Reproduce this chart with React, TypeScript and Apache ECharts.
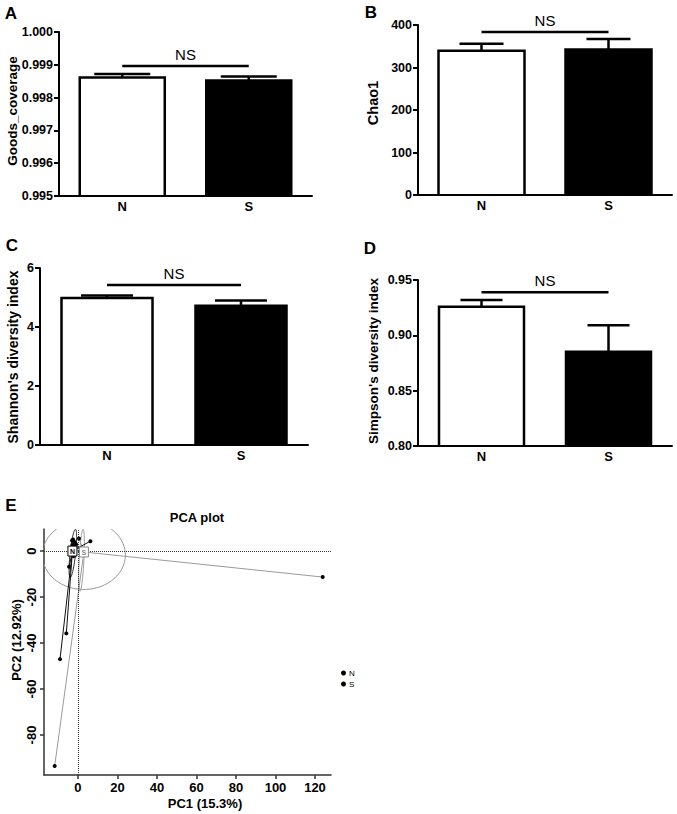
import React, { useEffect, useRef } from 'react';
import * as echarts from 'echarts';

// ---------- data ----------
const groups = ['N', 'S'];

const goodsMean = [0.99861, 0.99852];
const goodsUpper = [0.99872, 0.99864];
const goodsNS = 0.99896;
const goodsTicks = [0.995, 1.0];

const chaoMean = [339.5, 342.5];
const chaoUpper = [356, 367];
const chaoNS = 383.5;
const chaoTicks = [0, 400];

const shannonMean = [4.98, 4.72];
const shannonUpper = [5.07, 4.9];
const shannonNS = 5.42;
const shannonTicks = [0, 6];

const simpsonMean = [0.9259, 0.8852];
const simpsonUpper = [0.9319, 0.9091];
const simpsonNS = 0.939;
const simpsonTicks = [0.8, 0.95];

const pcaXTicks = [0, 20, 40, 60, 80, 100, 120];
const pcaYTicks = [-80, -60, -40, -20, 0];
const pcaNCentroid = [-2.8, 0];
const pcaSCentroid = [3, -0.4];
const pcaNPoints = [
  [-2.5, 5], [-2, 4.2], [-1.5, 3.5], [-2.8, 2.6], [-1, 3], [-3, 4.6], [-1.8, 1.5],
  [-2.2, -2.2], [-4.5, -6.8], [-5.9, -35.8], [-9.1, -47], [6.3, 4.3],
];
const pcaSPoints = [[123.9, -11.3], [-11.8, -93.5], [0.5, 5.5], [-1.2, 2.2], [-2.5, 0.8]];
const pcaEllipses = [
  { group: 'N', center: [-2.6, -1], major: [1.3, 10.5], minor: [1.4, 0] },
  { group: 'S', center: [3, -1.7], major: [21, 0], minor: [0, 15] },
  { group: 'S', center: [1.8, -4], major: [0.8, 13.5], minor: [1.2, 0] },
];

// ---------- styles ----------
const FONT = "'Liberation Sans', Arial, Helvetica, sans-serif";

const barPanels = [
  { mean: goodsMean, upper: goodsUpper, ns: goodsNS, ticks: goodsTicks, interval: 0.001, digits: 3, grid: { left: 59, top: 32, width: 253, height: 164 }, barWidth: 85, cap: 28 },
  { mean: chaoMean, upper: chaoUpper, ns: chaoNS, ticks: chaoTicks, interval: 100, digits: 0, grid: { left: 418, top: 25, width: 254, height: 170 }, barWidth: 86, cap: 22 },
  { mean: shannonMean, upper: shannonUpper, ns: shannonNS, ticks: shannonTicks, interval: 2, digits: 0, grid: { left: 40, top: 268, width: 268, height: 177 }, barWidth: 91, cap: 26 },
  { mean: simpsonMean, upper: simpsonUpper, ns: simpsonNS, ticks: simpsonTicks, interval: 0.05, digits: 2, grid: { left: 418, top: 280, width: 254, height: 166 }, barWidth: 85, cap: 21 },
];

function buildOption() {
  const grid: any[] = [];
  const xAxis: any[] = [];
  const yAxis: any[] = [];
  const series: any[] = [];

  barPanels.forEach((p, i) => {
    grid.push({ ...p.grid, containLabel: false, outerBoundsMode: 'none' });
    xAxis.push({
      type: 'category', gridIndex: i, data: groups, z: 10,
      axisLine: { lineStyle: { color: '#000', width: 2 } },
      axisTick: { show: false },
      axisLabel: { color: '#000', fontWeight: 'bold', fontSize: 13, fontFamily: FONT, margin: 4 },
    });
    yAxis.push({
      type: 'value', gridIndex: i, min: p.ticks[0], max: p.ticks[1], interval: p.interval, z: 10,
      axisLine: { show: true, lineStyle: { color: '#000', width: 2 } },
      axisTick: { show: true, length: 5, lineStyle: { color: '#000', width: 2 } },
      splitLine: { show: false },
      axisLabel: {
        color: '#000', fontWeight: 'bold', fontSize: 12.5, fontFamily: FONT, margin: 6,
        formatter: (v: number) => v.toFixed(p.digits),
      },
    });
    // bars (open at the bottom, like the original)
    series.push({
      type: 'custom', xAxisIndex: i, yAxisIndex: i, silent: true, z: 3,
      data: p.mean.map((v, k) => [k, v]),
      encode: { x: 0, y: 1 },
      renderItem: (params: any, api: any) => {
        const k = params.dataIndex;
        const top = api.coord([k, p.mean[k]]);
        const base = api.coord([k, p.ticks[0]]);
        const half = p.barWidth / 2;
        const x0 = top[0] - half;
        const x1 = top[0] + half;
        return {
          type: 'group',
          children: [
            { type: 'rect', shape: { x: x0, y: top[1], width: x1 - x0, height: base[1] - top[1] }, style: { fill: k === 0 ? '#fff' : '#000' } },
            { type: 'polyline', shape: { points: [[x0, base[1]], [x0, top[1]], [x1, top[1]], [x1, base[1]]] }, style: { stroke: '#000', lineWidth: 2.5, fill: 'none' } },
          ],
        };
      },
    });
    series.push({
      type: 'custom', xAxisIndex: i, yAxisIndex: i, silent: true, z: 2,
      data: p.mean.map((v, k) => [k, v, p.upper[k]]),
      encode: { x: 0, y: 1 },
      renderItem: (params: any, api: any) => {
        const k = params.dataIndex;
        const a = api.coord([k, p.mean[k]]);
        const b = api.coord([k, p.upper[k]]);
        return {
          type: 'group',
          children: [
            { type: 'line', shape: { x1: a[0], y1: a[1], x2: b[0], y2: b[1] }, style: { stroke: '#000', lineWidth: 2.5 } },
            { type: 'line', shape: { x1: b[0] - p.cap, y1: b[1], x2: b[0] + p.cap, y2: b[1] }, style: { stroke: '#000', lineWidth: 2.5 } },
          ],
        };
      },
    });
    series.push({
      type: 'custom', xAxisIndex: i, yAxisIndex: i, silent: true, z: 4,
      data: [[0, p.ns]],
      encode: { x: 0, y: 1 },
      renderItem: (params: any, api: any) => {
        const a = api.coord([0, p.ns]);
        const b = api.coord([1, p.ns]);
        return {
          type: 'group',
          children: [
            { type: 'line', shape: { x1: a[0], y1: a[1], x2: b[0], y2: b[1] }, style: { stroke: '#000', lineWidth: 2.5 } },
            {
              type: 'text', x: (a[0] + b[0]) / 2, y: a[1] - 12,
              style: { text: 'NS', fontSize: 15, fontFamily: FONT, fill: '#000', align: 'center', verticalAlign: 'middle' },
            },
          ],
        };
      },
    });
  });

  // PCA panel
  const pi = 4;
  grid.push({ left: 44, top: 529, width: 287, height: 246, containLabel: false, outerBoundsMode: 'none' });
  xAxis.push({
    type: 'value', gridIndex: pi, min: -17.2, max: 128.1,
    axisLine: { show: true, onZero: false, lineStyle: { color: '#333', width: 1.5 } },
    axisTick: { show: true, length: 4, customValues: pcaXTicks, lineStyle: { color: '#333', width: 1.5 } },
    axisLabel: { customValues: pcaXTicks, color: '#000', fontWeight: 'bold', fontSize: 13, fontFamily: FONT, margin: 6 },
    splitLine: { show: false },
  });
  yAxis.push({
    type: 'value', gridIndex: pi, min: -97.4, max: 9.6,
    axisLine: { show: true, onZero: false, lineStyle: { color: '#333', width: 1.5 } },
    axisTick: { show: true, length: 4, customValues: pcaYTicks, lineStyle: { color: '#333', width: 1.5 } },
    axisLabel: { customValues: pcaYTicks, rotate: 90, color: '#000', fontWeight: 'bold', fontSize: 13, fontFamily: FONT, margin: 6 },
    splitLine: { show: false },
  });

  const clipOf = (params: any) => {
    const cs = params.coordSys;
    return { type: 'rect', shape: { x: cs.x, y: cs.y, width: cs.width, height: cs.height } };
  };

  // ellipses
  series.push({
    type: 'custom', xAxisIndex: pi, yAxisIndex: pi, silent: true, z: 2,
    data: pcaEllipses.map((e) => e.center),
    encode: { x: 0, y: 1 },
    renderItem: (params: any, api: any) => {
      const e = pcaEllipses[params.dataIndex];
      const pts: number[][] = [];
      for (let k = 0; k <= 96; k++) {
        const t = (k / 96) * Math.PI * 2;
        pts.push(api.coord([
          e.center[0] + e.major[0] * Math.cos(t) + e.minor[0] * Math.sin(t),
          e.center[1] + e.major[1] * Math.cos(t) + e.minor[1] * Math.sin(t),
        ]));
      }
      return {
        type: 'group', clipPath: clipOf(params),
        children: [{ type: 'polyline', shape: { points: pts }, style: { stroke: e.group === 'N' ? '#222' : '#999', fill: 'none', lineWidth: 1 } }],
      };
    },
    markLine: {
      silent: true, symbol: 'none', label: { show: false },
      lineStyle: { type: 'dotted', color: '#333', width: 1 },
      data: [{ xAxis: 0 }, { yAxis: 0 }],
    },
  });

  const starSeries = (name: string, pts: number[][], centroid: number[], color: string) => ({
    name, type: 'custom', xAxisIndex: pi, yAxisIndex: pi, silent: true, z: name === 'N' ? 4 : 3,
    itemStyle: { color: '#000' },
    data: pts,
    encode: { x: 0, y: 1 },
    renderItem: (params: any, api: any) => {
      const c = api.coord(centroid);
      const p = api.coord([api.value(0), api.value(1)]);
      return {
        type: 'group', clipPath: clipOf(params),
        children: [
          { type: 'line', shape: { x1: c[0], y1: c[1], x2: p[0], y2: p[1] }, style: { stroke: color, lineWidth: 1 } },
          { type: 'circle', shape: { cx: p[0], cy: p[1], r: 2 }, style: { fill: '#000' } },
        ],
      };
    },
  });
  series.push(starSeries('N', pcaNPoints, pcaNCentroid, '#111'));
  series.push(starSeries('S', pcaSPoints, pcaSCentroid, '#9a9a9a'));

  // centroid label boxes
  const centroids = [
    { label: 'N', pos: pcaNCentroid, color: '#000' },
    { label: 'S', pos: pcaSCentroid, color: '#888' },
  ];
  series.push({
    type: 'custom', xAxisIndex: pi, yAxisIndex: pi, silent: true, z: 6,
    data: centroids.map((c) => c.pos),
    encode: { x: 0, y: 1 },
    renderItem: (params: any, api: any) => {
      const c = centroids[params.dataIndex];
      const p = api.coord(c.pos);
      return {
        type: 'group',
        children: [
          { type: 'rect', shape: { x: p[0] - 4.5, y: p[1] - 5, width: 9, height: 10 }, style: { fill: '#fff', stroke: c.color, lineWidth: 1 } },
          { type: 'text', x: p[0], y: p[1] + 0.5, style: { text: c.label, fontSize: 7, fontFamily: FONT, fontWeight: 'bold', fill: c.color, align: 'center', verticalAlign: 'middle' } },
        ],
      };
    },
  });

  const letter = (t: string, x: number, y: number) => ({
    type: 'text', x, y,
    style: { text: t, fontSize: 17, fontWeight: 'bold', fontFamily: FONT, fill: '#000', align: 'center', verticalAlign: 'middle' },
  });
  const vTitle = (t: string, x: number, y: number, size: number) => ({
    type: 'text', x, y, rotation: Math.PI / 2,
    style: { text: t, fontSize: size, fontWeight: 'bold', fontFamily: FONT, fill: '#000', align: 'center', verticalAlign: 'middle' },
  });
  const hTitle = (t: string, x: number, y: number, size: number) => ({
    type: 'text', x, y,
    style: { text: t, fontSize: size, fontWeight: 'bold', fontFamily: FONT, fill: '#000', align: 'center', verticalAlign: 'middle' },
  });

  return {
    animation: false,
    backgroundColor: '#fff',
    grid, xAxis, yAxis, series,
    legend: {
      data: ['N', 'S'], orient: 'vertical', left: 341, top: 669, padding: 0,
      itemWidth: 5, itemHeight: 5, itemGap: 3, icon: 'circle', selectedMode: false,
      textStyle: { fontSize: 8, fontFamily: FONT, color: '#000', padding: [0, 0, 0, -2] },
    },
    graphic: [
      letter('A', 11, 13), letter('B', 371, 12), letter('C', 12, 245), letter('D', 370, 248), letter('E', 11, 505),
      vTitle('Goods_coverage', 12, 111, 13.5),
      vTitle('Chao1', 373, 103, 14.5),
      vTitle("Shannon's diversity index", 13, 357, 14),
      vTitle("Simpson's diversity index", 373, 361, 13.5),
      hTitle('PCA plot', 197, 517, 13),
      hTitle('PC1 (15.3%)', 205, 803, 13),
      vTitle('PC2 (12.92%)', 16, 640, 13),
    ],
  };
}

export default function App() {
  const ref = useRef<HTMLDivElement>(null);
  useEffect(() => {
    if (!ref.current) return;
    const chart = echarts.init(ref.current, undefined, { renderer: 'svg' });
    chart.setOption(buildOption() as any);
    return () => chart.dispose();
  }, []);
  return <div ref={ref} style={{ position: 'fixed', left: 0, top: 0, width: 677, height: 814 }} />;
}
